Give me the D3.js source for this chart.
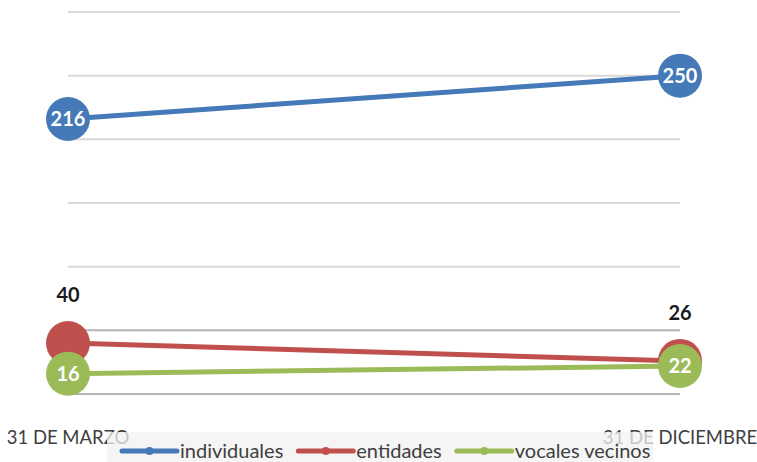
<!DOCTYPE html>
<html><head><meta charset="utf-8">
<script src="https://cdn.jsdelivr.net/npm/d3@7"></script>
<style>body{margin:0;background:#fff}svg{display:block}</style>
</head><body>
<svg id="c" width="757" height="462"></svg>
<script>
const categories = ["31 DE MARZO", "31 DE DICIEMBRE"];
const seriesNames = ["individuales", "entidades", "vocales vecinos"];
const individuales = [216, 250];
const entidades = [40, 26];
const vocalesVecinos = [16, 22];
const yTicks = [0, 50, 100, 150, 200, 250, 300];
const colors = ["#4579B8", "#C0504D", "#9BBB59"];

const svg = d3.select("#c");
const font = "Lato, 'Open Sans', sans-serif";
const x = d3.scalePoint().domain(categories).range([68, 680]);
const y = d3.scaleLinear().domain([0, 300]).range([394, 12]);

// gridlines
svg.append("g").selectAll("line").data(yTicks).join("line")
  .attr("x1", 68).attr("x2", 680)
  .attr("y1", d => y(d)).attr("y2", d => y(d))
  .attr("stroke", d => d <= 50 ? "#b4b4b4" : "#d9d9d9").attr("stroke-width", 2);

// category labels
svg.append("g").selectAll("text").data(categories).join("text")
  .attr("x", d => x(d)).attr("y", 444).attr("text-anchor", "middle")
  .attr("font-family", font).attr("font-size", 18.5).attr("fill", "#404040")
  .text(d => d);

const series = [
  {name: seriesNames[0], values: individuales, color: colors[0], inside: true},
  {name: seriesNames[1], values: entidades, color: colors[1], inside: false},
  {name: seriesNames[2], values: vocalesVecinos, color: colors[2], inside: true}
];

const line = d3.line().x((d, i) => x(categories[i])).y(d => y(d));
series.forEach(s => {
  const g = svg.append("g");
  g.append("path").attr("d", line(s.values)).attr("fill", "none")
    .attr("stroke", s.color).attr("stroke-width", 5);
  g.selectAll("circle").data(s.values).join("circle")
    .attr("cx", (d, i) => x(categories[i])).attr("cy", d => y(d)).attr("r", 22)
    .attr("fill", s.color);
});
series.forEach(s => {
  svg.append("g").selectAll("text").data(s.values).join("text")
    .attr("x", (d, i) => x(categories[i]))
    .attr("y", d => s.inside ? y(d) + 7 : y(d) - 41)
    .attr("text-anchor", "middle")
    .attr("font-family", font).attr("font-weight", "bold").attr("font-size", 20)
    .attr("fill", s.inside ? "#fff" : "#1a1a1a")
    .text(d => d);
});

// legend
const lg = svg.append("g");
lg.append("rect").attr("x", 107).attr("y", 432).attr("width", 546).attr("height", 30)
  .attr("fill", "#f2f2f2").attr("opacity", 0.75);
let lx = 122;
series.forEach(s => {
  lg.append("line").attr("x1", lx).attr("x2", lx + 55).attr("y1", 451).attr("y2", 451)
    .attr("stroke", s.color).attr("stroke-width", 5).attr("stroke-linecap", "round");
  lg.append("circle").attr("cx", lx + 27.5).attr("cy", 451).attr("r", 4).attr("fill", s.color);
  const t = lg.append("text").attr("x", lx + 58).attr("y", 458)
    .attr("font-family", font).attr("font-size", 20).attr("fill", "#404040").text(s.name);
  lx += 58 + t.node().getComputedTextLength() + 15;
});
</script>
</body></html>
